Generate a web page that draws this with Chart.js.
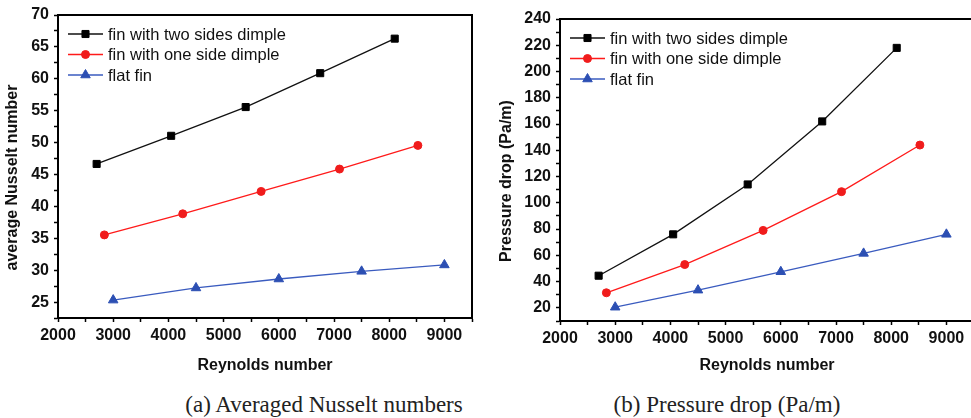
<!DOCTYPE html>
<html>
<head>
<meta charset="utf-8">
<script src="https://cdn.jsdelivr.net/npm/chart.js@4/dist/chart.umd.min.js"></script>
<style>
  html, body { margin: 0; padding: 0; background: #fff; overflow: hidden; width: 971px; height: 418px; }
  .box { position: absolute; top: 0; height: 385px; }
  .cap { position: absolute; top: 391px; font-family: "Liberation Serif", "Times New Roman", serif;
         font-size: 23px; line-height: 28px; color: #222; white-space: nowrap; transform: translateX(-50%); }
</style>
</head>
<body>
<div class="box" style="left:0;width:480px"><canvas id="nu"></canvas></div>
<div class="box" style="left:494px;width:500px"><canvas id="dp"></canvas></div>
<div class="cap" style="left:324px">(a) Averaged Nusselt numbers</div>
<div class="cap" style="left:727px">(b) Pressure drop (Pa/m)</div>

<script>
// series labels
const seriesNames = ['fin with two sides dimple', 'fin with one side dimple', 'flat fin'];

// Reynolds numbers per series
const reTwo  = [2700, 4050, 5400, 6750, 8100];
const reOne  = [2840, 4260, 5680, 7100, 8520];
const reFlat = [3000, 4500, 6000, 7500, 9000];

// (a) averaged Nusselt number
const nuTwo  = [46.7, 51.1, 55.6, 60.9, 66.3];
const nuOne  = [35.6, 38.9, 42.4, 45.9, 49.6];
const nuFlat = [25.4, 27.3, 28.7, 29.9, 30.9];

// (b) pressure drop, Pa/m
const dpTwo  = [44.5, 76, 114, 162, 218];
const dpOne  = [31.5, 53, 79, 108.5, 144];
const dpFlat = [20.5, 33.5, 47.5, 61.5, 76];

// tick positions (only the majors get a label)
const xTicks  = [2000, 2500, 3000, 3500, 4000, 4500, 5000, 5500, 6000, 6500, 7000, 7500, 8000, 8500, 9000, 9500];
const nuTicks = [22.5, 25, 27.5, 30, 32.5, 35, 37.5, 40, 42.5, 45, 47.5, 50, 52.5, 55, 57.5, 60, 62.5, 65, 67.5, 70];
const dpTicks = [10, 20, 30, 40, 50, 60, 70, 80, 90, 100, 110, 120, 130, 140, 150, 160, 170, 180, 190, 200, 210, 220, 230, 240];

const SANS = '"Liberation Sans", Arial, Helvetica, sans-serif';
const styles = [
  { color: '#111111', fill: '#000000', point: 'rect',     radius: 5 },
  { color: '#ff1a1a', fill: '#f01c1c', point: 'circle',   radius: 4 },
  { color: '#3a5bbf', fill: '#2c4fb3', point: 'triangle', radius: 5.5 }
];

function makeSets(xs, ys) {
  return ys.map((vals, i) => ({
    label: seriesNames[i],
    data: vals.map((v, j) => ({ x: xs[i][j], y: v })),
    showLine: true,
    borderColor: styles[i].color,
    borderWidth: 1.3,
    pointStyle: styles[i].point,
    pointRadius: styles[i].radius,
    pointBackgroundColor: styles[i].fill,
    pointBorderColor: styles[i].fill,
    pointBorderWidth: 1
  }));
}

// legend drawn inside the plot, top-left
const insideLegend = {
  id: 'insideLegend',
  afterDatasetsDraw(chart) {
    const { ctx, chartArea } = chart;
    ctx.save();
    ctx.font = '16.5px ' + SANS;
    ctx.textBaseline = 'middle';
    chart.data.datasets.forEach((ds, i) => {
      const y = chartArea.top + 19 + i * 20.5;
      const x0 = chartArea.left + 10;
      ctx.strokeStyle = ds.borderColor;
      ctx.lineWidth = ds.borderWidth;
      ctx.beginPath(); ctx.moveTo(x0, y); ctx.lineTo(x0 + 35, y); ctx.stroke();
      ctx.fillStyle = ds.pointBackgroundColor;
      ctx.strokeStyle = ds.pointBorderColor;
      ctx.lineWidth = 1;
      Chart.helpers.drawPoint(ctx, { pointStyle: ds.pointStyle, radius: ds.pointRadius, borderWidth: 1 }, x0 + 17.5, y);
      ctx.fillStyle = '#111';
      ctx.fillText(ds.label, x0 + 40, y + 1);
    });
    ctx.restore();
  }
};

// closes the box on top and right, and writes the y title a bit below centre like the original
const frame = {
  id: 'frame',
  afterDraw(chart, args, opts) {
    const { ctx, chartArea: a } = chart;
    ctx.save();
    ctx.strokeStyle = '#000';
    ctx.lineWidth = 2;
    ctx.beginPath();
    ctx.moveTo(a.left, a.top); ctx.lineTo(a.right, a.top); ctx.lineTo(a.right, a.bottom);
    ctx.stroke();

    ctx.translate(13, (a.top + a.bottom) / 2 + 11);
    ctx.rotate(-Math.PI / 2);
    ctx.font = 'bold 16px ' + SANS;
    ctx.fillStyle = '#111';
    ctx.textAlign = 'center';
    ctx.textBaseline = 'middle';
    ctx.fillText(opts.yTitle, 0, 0);
    ctx.restore();
  }
};

function renderPanel(canvasId, datasets, cfg) {
  const ctx = document.getElementById(canvasId).getContext('2d');
  const tickFont = { family: SANS, size: 16, weight: 'bold' };
  const titleFont = { family: SANS, size: 16, weight: 'bold' };
  const axisGrid = { display: true, drawOnChartArea: false, drawTicks: true, tickLength: 4, tickColor: '#000', tickWidth: 1.5 };
  const axisBorder = { display: true, color: '#000', width: 2 };

  return new Chart(ctx, {
    type: 'scatter',
    data: { datasets },
    plugins: [frame, insideLegend],
    options: {
      responsive: true,
      maintainAspectRatio: false,
      animation: false,
      layout: { padding: { top: cfg.top, right: cfg.right, left: 0, bottom: 0 } },
      plugins: {
        legend: { display: false },
        tooltip: { enabled: false },
        frame: { yTitle: cfg.yTitle }
      },
      scales: {
        x: {
          type: 'linear', min: 2000, max: 9500,
          grid: axisGrid, border: axisBorder,
          afterBuildTicks: (s) => { s.ticks = xTicks.map(v => ({ value: v })); },
          afterFit: (s) => { s.height = cfg.xHeight; },
          ticks: {
            autoSkip: false, maxRotation: 0, padding: 4, color: '#111', font: tickFont,
            callback: (v) => v % 1000 === 0 ? String(v) : ''
          },
          title: { display: true, text: 'Reynolds number', color: '#111', font: titleFont, padding: { top: 0, bottom: 10 } }
        },
        y: {
          type: 'linear', min: cfg.yMin, max: cfg.yMax,
          grid: axisGrid, border: axisBorder,
          afterBuildTicks: (s) => { s.ticks = cfg.yTicks.map(v => ({ value: v })); },
          afterFit: (s) => { s.width = cfg.yWidth; },
          ticks: {
            autoSkip: false, padding: 5, color: '#111', font: tickFont,
            callback: (v) => v % cfg.yMajor === 0 ? String(v) : ''
          },
          title: { display: false }
        }
      }
    }
  });
}

const reAll = [reTwo, reOne, reFlat];

renderPanel('nu', makeSets(reAll, [nuTwo, nuOne, nuFlat]), {
  top: 15, right: 8, xHeight: 67, yWidth: 58,
  yMin: 22.6, yMax: 70, yTicks: nuTicks, yMajor: 5, yTitle: 'average Nusselt number'
});

renderPanel('dp', makeSets(reAll, [dpTwo, dpOne, dpFlat]), {
  top: 19, right: 20, xHeight: 64, yWidth: 66,
  yMin: 10, yMax: 240, yTicks: dpTicks, yMajor: 20, yTitle: 'Pressure drop (Pa/m)'
});
</script>
</body>
</html>
